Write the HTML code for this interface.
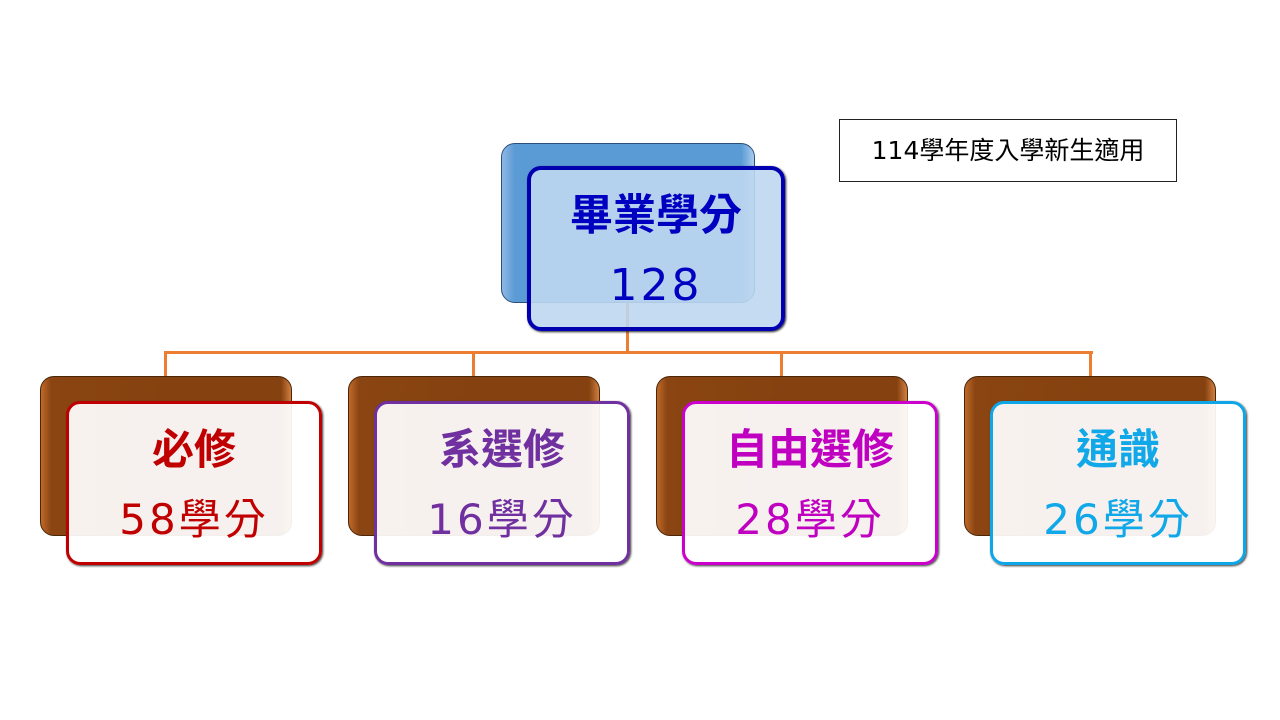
<!DOCTYPE html>
<html><head><meta charset="utf-8"><style>
body{margin:0;width:1280px;height:720px;background:#fff;position:relative;overflow:hidden;font-family:"Liberation Sans","Noto Sans CJK TC",sans-serif}
.b{position:absolute;box-sizing:border-box;border-radius:14px}
.back{background:linear-gradient(90deg,#c0692a 0,#8a4512 4%,#85410f 50%,#85410f 96%,#d08040 100%);border:1px solid #4a2508;width:252px;height:160px;top:376px}
.front{background:rgba(255,255,255,0.93);border:3px solid;width:256px;height:164px;top:401px;box-shadow:1px 1px 2px #333}
.t{position:absolute;width:256px;text-align:center;font-size:42px;line-height:48px;white-space:nowrap}
.t1{font-weight:bold;top:22px}
.t2{top:92px;font-family:"DejaVu Sans","Noto Sans CJK TC",sans-serif;letter-spacing:3px}
.l{position:absolute;background:#ed7d31}
</style></head><body>
<div class="l" style="left:626px;top:300px;width:3px;height:54px"></div>
<div class="l" style="left:164px;top:351px;width:929px;height:3px"></div>
<div class="l" style="left:164px;top:351px;width:3px;height:26px"></div>
<div class="l" style="left:472px;top:351px;width:3px;height:26px"></div>
<div class="l" style="left:780px;top:351px;width:3px;height:26px"></div>
<div class="l" style="left:1089px;top:351px;width:3px;height:26px"></div>

<div class="b" style="left:501px;top:143px;width:254px;height:160px;background:linear-gradient(90deg,#8fb8e4 0,#5b9bd5 5%,#5b9bd5 95%,#a8cbee 100%);border:1px solid #2c4f7a"></div>
<div class="b" style="left:527px;top:166px;width:258px;height:165px;background:rgba(190,215,240,0.9);border:4px solid #0000b0;box-shadow:1px 1px 2px #222;color:#0000c0">
<div class="t" style="width:250px;font-weight:bold;top:22px;font-size:43px">畢業學分</div>
<div class="t" style="width:250px;top:92px;font-family:'DejaVu Sans',sans-serif;font-size:44px;letter-spacing:3px">128</div>
</div>

<div class="b back" style="left:40px"></div>
<div class="b front" style="left:66px;border-color:#c00000;color:#c00000"><div class="t t1" style="left:-3px">必修</div><div class="t t2" style="left:-3px">58學分</div></div>
<div class="b back" style="left:348px"></div>
<div class="b front" style="left:374px;border-color:#7030a0;color:#7030a0"><div class="t t1" style="left:-3px">系選修</div><div class="t t2" style="left:-3px">16學分</div></div>
<div class="b back" style="left:656px"></div>
<div class="b front" style="left:682px;border-color:#cc00cc;color:#c000c0"><div class="t t1" style="left:-3px">自由選修</div><div class="t t2" style="left:-3px">28學分</div></div>
<div class="b back" style="left:964px"></div>
<div class="b front" style="left:990px;border-color:#0ea6e6;color:#10a8e8"><div class="t t1" style="left:-3px">通識</div><div class="t t2" style="left:-3px">26學分</div></div>

<div style="position:absolute;left:839px;top:119px;width:338px;height:63px;border:1px solid #222;box-sizing:border-box;font-size:25px;line-height:61px;text-align:center;color:#000;font-family:'DejaVu Sans','Noto Sans CJK TC',sans-serif">114學年度入學新生適用</div>
</body></html>
